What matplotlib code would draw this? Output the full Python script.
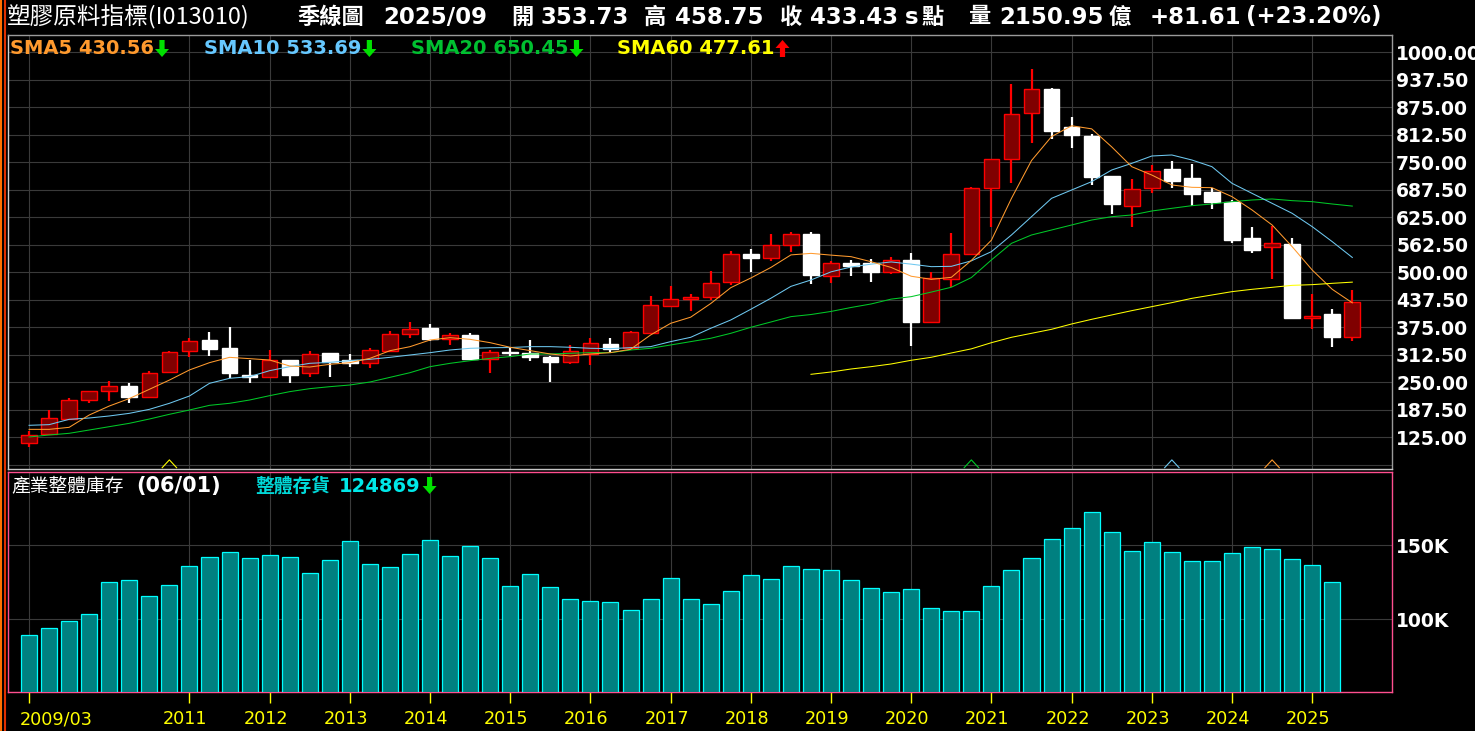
import numpy as np
import matplotlib
matplotlib.use("Agg")
import matplotlib.pyplot as plt
import matplotlib.transforms as mtransforms
from matplotlib.lines import Line2D
from matplotlib.patches import Polygon

# ---- quarterly candles, 2009Q1 .. 2025Q3 ----
open_ = [112.8, 131.7, 167.3, 209.0, 231.0, 240.5, 215.8, 272.6, 320.3, 346.1,
         327.9, 266.5, 262.8, 299.9, 270.3, 316.5, 299.9, 293.1, 321.8, 359.0,
         373.4, 349.1, 357.5, 303.7, 318.6, 315.9, 308.3, 296.9, 313.6, 336.3,
         328.7, 361.3, 424.2, 438.6, 443.1, 477.0, 540.8, 533.2, 561.3, 587.0,
         492.3, 521.0, 520.4, 501.0, 528.0, 387.8, 485.5, 540.8, 690.8, 756.7,
         861.3, 915.8, 829.4, 809.7, 718.8, 649.9, 690.8, 734.7, 714.3, 681.7,
         660.5, 577.2, 556.7, 564.3, 395.4, 405.2, 353.73]
high = [139.3, 187.0, 214.3, 230.0, 253.0, 247.6, 275.6, 321.1, 350.6, 364.3,
        375.6, 300.6, 323.4, 300.5, 321.0, 317.0, 315.0, 327.2, 365.8, 387.0,
        382.5, 361.2, 362.0, 323.4, 331.0, 346.2, 308.8, 334.8, 349.9, 349.9,
        366.6, 446.2, 468.9, 450.7, 502.5, 548.4, 552.9, 587.0, 590.8, 592.3,
        525.7, 528.0, 530.2, 534.0, 544.0, 499.9, 590.0, 694.6, 757.0, 927.9,
        962.0, 918.1, 852.2, 814.3, 719.5, 712.0, 743.8, 752.9, 745.4, 692.3,
        664.3, 602.9, 606.0, 577.2, 450.7, 416.6, 458.75]
low = [103.7, 130.5, 165.0, 203.7, 208.2, 203.7, 215.0, 270.3, 308.2, 310.5,
       259.0, 249.1, 259.0, 249.1, 262.8, 262.8, 285.5, 283.2, 321.0, 351.4,
       343.1, 335.5, 302.0, 271.8, 309.8, 299.2, 251.5, 292.4, 290.1, 318.1,
       328.0, 361.0, 421.9, 412.8, 437.0, 470.0, 499.9, 526.4, 545.4, 474.1,
       476.4, 492.0, 478.5, 496.1, 332.5, 385.5, 466.5, 540.0, 602.2, 702.2,
       794.6, 802.2, 783.2, 697.6, 633.2, 603.7, 681.0, 692.3, 651.4, 644.6,
       565.8, 544.6, 485.5, 394.6, 370.4, 331.0, 344.6]
close = [130.2, 168.1, 209.7, 229.4, 240.8, 217.3, 270.3, 318.1, 343.1, 326.4,
         271.8, 262.8, 299.9, 267.3, 313.5, 295.3, 293.1, 322.6, 359.0, 370.3,
         349.1, 356.7, 303.7, 318.1, 317.0, 308.3, 296.9, 321.2, 338.6, 326.5,
         363.6, 424.9, 438.6, 443.1, 474.9, 541.0, 533.2, 561.3, 586.3, 493.8,
         520.4, 515.0, 501.4, 527.5, 387.8, 486.3, 541.6, 690.8, 756.7, 859.0,
         915.8, 821.9, 812.8, 717.3, 656.0, 688.5, 729.4, 708.2, 678.7, 659.7,
         573.4, 551.4, 565.8, 396.9, 400.7, 351.82, 433.43]

# moving averages
sma5 = [143.0, 143.0, 147.6, 175.6, 196.0, 213.0, 234.0, 255.0, 278.0, 294.6,
        306.7, 303.7, 300.6, 287.0, 284.7, 290.8, 294.6, 304.4, 321.8, 330.9,
        346.1, 351.4, 347.6, 340.0, 329.5, 321.9, 314.3, 309.8, 314.3, 317.4,
        324.9, 357.5, 384.0, 398.0, 429.0, 465.0, 487.0, 511.0, 539.5, 543.0,
        539.0, 535.5, 524.0, 511.0, 491.0, 484.0, 488.5, 527.0, 573.0, 668.0,
        754.0, 808.5, 833.0, 826.0, 785.0, 740.0, 721.0, 698.4, 693.1, 692.3,
        671.9, 641.6, 607.5, 558.2, 505.2, 461.3, 430.56]
sma10 = [152.2, 153.7, 165.8, 168.8, 173.4, 179.4, 188.5, 202.2, 218.8, 247.6,
         259.0, 262.8, 276.4, 285.5, 293.1, 295.3, 299.1, 302.2, 306.7, 312.0,
         317.3, 323.4, 327.2, 328.5, 329.0, 331.0, 331.0, 329.5, 327.2, 326.5,
         328.7, 331.0, 342.4, 352.2, 372.7, 391.6, 416.0, 441.0, 468.0, 482.5,
         501.0, 512.0, 518.5, 523.5, 518.5, 512.8, 513.5, 526.0, 546.9, 584.8,
         626.4, 668.1, 687.0, 706.0, 732.5, 747.6, 764.3, 766.6, 755.2, 740.0,
         702.2, 679.4, 656.7, 634.0, 603.7, 569.6, 533.69]
sma20 = [125.6, 130.2, 134.0, 141.5, 149.1, 156.7, 166.5, 177.2, 187.0, 197.6,
         202.2, 209.7, 219.6, 228.7, 235.5, 240.0, 243.8, 250.6, 261.2, 271.8,
         285.5, 293.1, 299.1, 304.4, 308.3, 314.3, 314.3, 315.9, 317.4, 317.4,
         323.4, 327.2, 334.8, 342.4, 350.0, 361.3, 375.0, 387.0, 399.2, 404.0,
         411.0, 420.0, 428.0, 439.0, 444.6, 455.0, 466.0, 488.0, 528.0, 565.8,
         584.8, 596.1, 607.5, 618.8, 626.4, 630.2, 639.3, 645.4, 651.4, 655.2,
         660.5, 664.3, 666.6, 662.8, 660.5, 655.2, 650.45]
sma60_start = 39
sma60 = [268.1, 273.4, 280.2, 285.5, 291.6, 300.0, 306.8, 316.6, 326.0, 340.0,
         352.2, 361.3, 370.4, 382.5, 393.1, 403.0, 412.8, 421.9, 431.0, 440.8,
         448.4, 456.0, 461.3, 465.8, 470.3, 471.9, 474.9, 477.61]

# industry inventory, 2009Q1 .. 2025Q2
inventory = [89400, 93900, 98600, 103400, 125000, 126400, 115500, 123000, 135800, 141900,
             145300, 141200, 143200, 141900, 131100, 139900, 152700, 137200, 135100, 143900,
             153400, 142600, 149300, 141200, 122300, 130400, 121600, 113500, 112200, 111500,
             106100, 113500, 127700, 113500, 110100, 118900, 129700, 127000, 135800, 133800,
             133100, 126400, 121000, 118200, 120300, 107400, 105400, 105400, 122300, 133100,
             141200, 154100, 161500, 172300, 158800, 145900, 152000, 145300, 139200, 139200,
             144600, 148600, 147300, 140500, 136500, 124869]

year_labels = ["2009/03", "2011", "2012", "2013", "2014", "2015", "2016", "2017",
               "2018", "2019", "2020", "2021", "2022", "2023", "2024", "2025"]
first_year = 2009

W, H, DPI = 1475, 731, 100
CJK = ["Noto Sans CJK TC", "DejaVu Sans"]
GRID = "#3a3a3a"
C5, C10, C20, C60 = "#ff9a2e", "#6ec8f0", "#00c828", "#ffff00"


def fx(x):
    return x / W


def fy(y):
    return 1 - y / H


def arrow(x_center, y_top, up, color):
    """Filled block arrow, 14x17 px, in figure pixels (y from top)."""
    hw, sw, sh, hh = 7, 2.6, 9, 17
    if up:
        pts = [(0, 0), (hw, sh - 1), (sw, sh - 1), (sw, hh), (-sw, hh), (-sw, sh - 1), (-hw, sh - 1)]
    else:
        pts = [(-sw, 0), (sw, 0), (sw, sh), (hw, sh), (0, hh), (-hw, sh), (-sw, sh)]
    poly = Polygon([(fx(x_center + dx), fy(y_top + dy)) for dx, dy in pts],
                   closed=True, transform=fig.transFigure, facecolor=color,
                   edgecolor="none")
    fig.add_artist(poly)


fig = plt.figure(figsize=(W / DPI, H / DPI), dpi=DPI, facecolor="black")
ax = fig.add_axes([fx(8), fy(469), (1392 - 8) / W, (469 - 35) / H], facecolor="black")
axv = fig.add_axes([fx(8), fy(692), (1392 - 8) / W, (692 - 472) / H], facecolor="black")

o, h, l, c = map(np.array, (open_, high, low, close))
x = np.arange(len(c))
up = c >= o
body_low = np.minimum(o, c)
body_h = np.maximum(np.abs(c - o), 1.5)

year_idx = [0] + [(int(s) - first_year) * 4 for s in year_labels[1:]]

# ---- price panel ----
ax.vlines(x[up], l[up], h[up], color="#ff0000", lw=1.6, zorder=2)
ax.vlines(x[~up], l[~up], h[~up], color="white", lw=1.6, zorder=2)
ax.bar(x[up], body_h[up], bottom=body_low[up], width=0.78,
       facecolor="#800000", edgecolor="#ff0000", lw=1, zorder=3)
ax.bar(x[~up], body_h[~up], bottom=body_low[~up], width=0.78,
       facecolor="white", edgecolor="white", lw=1, zorder=3)

ax.plot(x, sma20, color=C20, lw=0.75, zorder=4)
ax.plot(x, sma10, color=C10, lw=0.75, zorder=4)
ax.plot(x, sma5, color=C5, lw=0.75, zorder=4)
ax.plot(np.arange(sma60_start, sma60_start + len(sma60)), sma60, color=C60, lw=0.75, zorder=4)

# deduction markers
for period, col in [(60, C60), (20, C20), (10, C10), (5, C5)]:
    xi = len(c) - period
    ax.plot([xi - 0.36, xi, xi + 0.36], [0.003, 0.021, 0.003],
            transform=ax.get_xaxis_transform(), color=col, lw=0.8, zorder=5,
            clip_on=False)

ax.set_xlim(-1.05, 67.98)
ax.set_ylim(52.9, 1039.3)
ax.set_xticks(year_idx)
ax.set_xticklabels([])
yt = np.arange(62.5, 1000.1, 62.5)
ax.set_yticks(yt)
ax.set_yticklabels(["" if v < 100 else f"{v:.2f}" for v in yt])
ax.yaxis.tick_right()
ax.tick_params(axis="both", length=0)
ax.tick_params(axis="y", pad=3, labelcolor="white", labelsize=13.5)
for lab in ax.get_yticklabels():
    lab.set_fontweight("bold")
ax.grid(True, color=GRID, lw=0.8, zorder=0)
ax.set_axisbelow(True)
ax.spines["top"].set_color("#9a9a9a")
ax.spines["right"].set_color("#9a9a9a")
ax.spines["left"].set_color("#d0d0d0")
ax.spines["bottom"].set_color("#c8c8c8")
for s in ax.spines.values():
    s.set_linewidth(1)

# ---- inventory panel ----
xi = np.arange(len(inventory))
axv.bar(xi, inventory, width=0.8, facecolor="#008080", edgecolor="#00ffff", lw=0.9, zorder=3)
axv.set_xlim(-1.05, 67.98)
axv.set_ylim(50900, 199500)
axv.set_yticks([100000, 150000])
axv.set_yticklabels(["100K", "150K"])
axv.yaxis.tick_right()
axv.tick_params(axis="y", length=0, pad=3, labelcolor="white", labelsize=13.5)
for lab in axv.get_yticklabels():
    lab.set_fontweight("bold")
axv.set_xticks(year_idx)
axv.set_xticklabels(year_labels)
axv.tick_params(axis="x", color="#ffff00", length=8, width=1, pad=5,
                labelcolor="#ffff00", labelsize=12.7)
for i, lab in enumerate(axv.get_xticklabels()):
    if i == 0:
        lab.set_horizontalalignment("left")
        shift = -9
    else:
        shift = -4
    lab.set_transform(lab.get_transform() +
                      mtransforms.ScaledTranslation(shift / DPI, 0, fig.dpi_scale_trans))
axv.grid(True, color=GRID, lw=0.8, zorder=0)
axv.set_axisbelow(True)
for s in axv.spines.values():
    s.set_color("#ff4f8f")
    s.set_linewidth(1)

# ---- left edge strips ----
fig.add_artist(Line2D([fx(1), fx(1)], [0, 1], color="#ff7000", lw=1.5))
fig.add_artist(Line2D([fx(4.5), fx(4.5)], [0, 1], color="#e03000", lw=1.5))

# ---- header line ----
ty = fy(17)
fig.text(fx(7), ty, "塑膠原料指標(I013010)", color="white", fontsize=17,
         family=CJK, va="center")
fig.text(fx(297), ty, "季線圖", color="white", fontsize=16, family=CJK,
         fontweight="bold", va="center")
fig.text(fx(383), ty, "2025/09", color="white", fontsize=16.5, fontweight="bold", va="center")
head = [(511, "開", True), (540, f"{open_[-1]:.2f}", False),
        (644, "高", True), (675, f"{high[-1]:.2f}", False),
        (780, "收", True), (810, f"{close[-1]:.2f}", False),
        (905, "s", False), (922, "點", True),
        (969, "量", True), (999, "2150.95", False), (1109, "億", True)]
for px, s, cjk in head:
    if cjk:
        fig.text(fx(px), ty, s, color="white", fontsize=16, family=CJK,
                 fontweight="bold", va="center")
    else:
        fig.text(fx(px), ty, s, color="white", fontsize=16.5, fontweight="bold", va="center")
chg = close[-1] - close[-2]
fig.text(fx(1150), ty, f"{chg:+.2f}", color="white", fontsize=16.5,
         fontweight="bold", va="center")
fig.text(fx(1246), ty, f"({chg / close[-2] * 100:+.2f}%)", color="white",
         fontsize=16.5, fontweight="bold", va="center")

# ---- MA legend ----
fig.canvas.draw()
renderer = fig.canvas.get_renderer()
ly = fy(49)
for px, name, ser, col in [(10, "SMA5", sma5, C5), (204, "SMA10", sma10, "#66c8ff"),
                           (411, "SMA20", sma20, "#00c030"), (617, "SMA60", sma60, C60)]:
    t = fig.text(fx(px), ly, f"{name} {ser[-1]:.2f}", color=col, fontsize=14,
                 fontweight="bold", va="center")
    ext = t.get_window_extent(renderer)
    rising = ser[-1] > ser[-2]
    arrow(ext.x1 + 8, 40, rising, "#ff0000" if rising else "#00e000")

# ---- inventory header ----
iy = fy(486)
fig.text(fx(11), iy, "產業整體庫存", color="white", fontsize=13.5, family=CJK, va="center")
fig.text(fx(136), iy, "(06/01)", color="white", fontsize=15, fontweight="bold", va="center")
fig.text(fx(255), iy, "整體存貨", color="#00d8d8", fontsize=13.5, family=CJK,
         fontweight="bold", va="center")
t = fig.text(fx(339), iy, f"{inventory[-1]}", color="#00e8e8", fontsize=14,
             fontweight="bold", va="center")
ext = t.get_window_extent(renderer)
arrow(ext.x1 + 9, 477, inventory[-1] > inventory[-2], "#00e000")

fig.savefig("out.png", dpi=DPI, facecolor="black")
